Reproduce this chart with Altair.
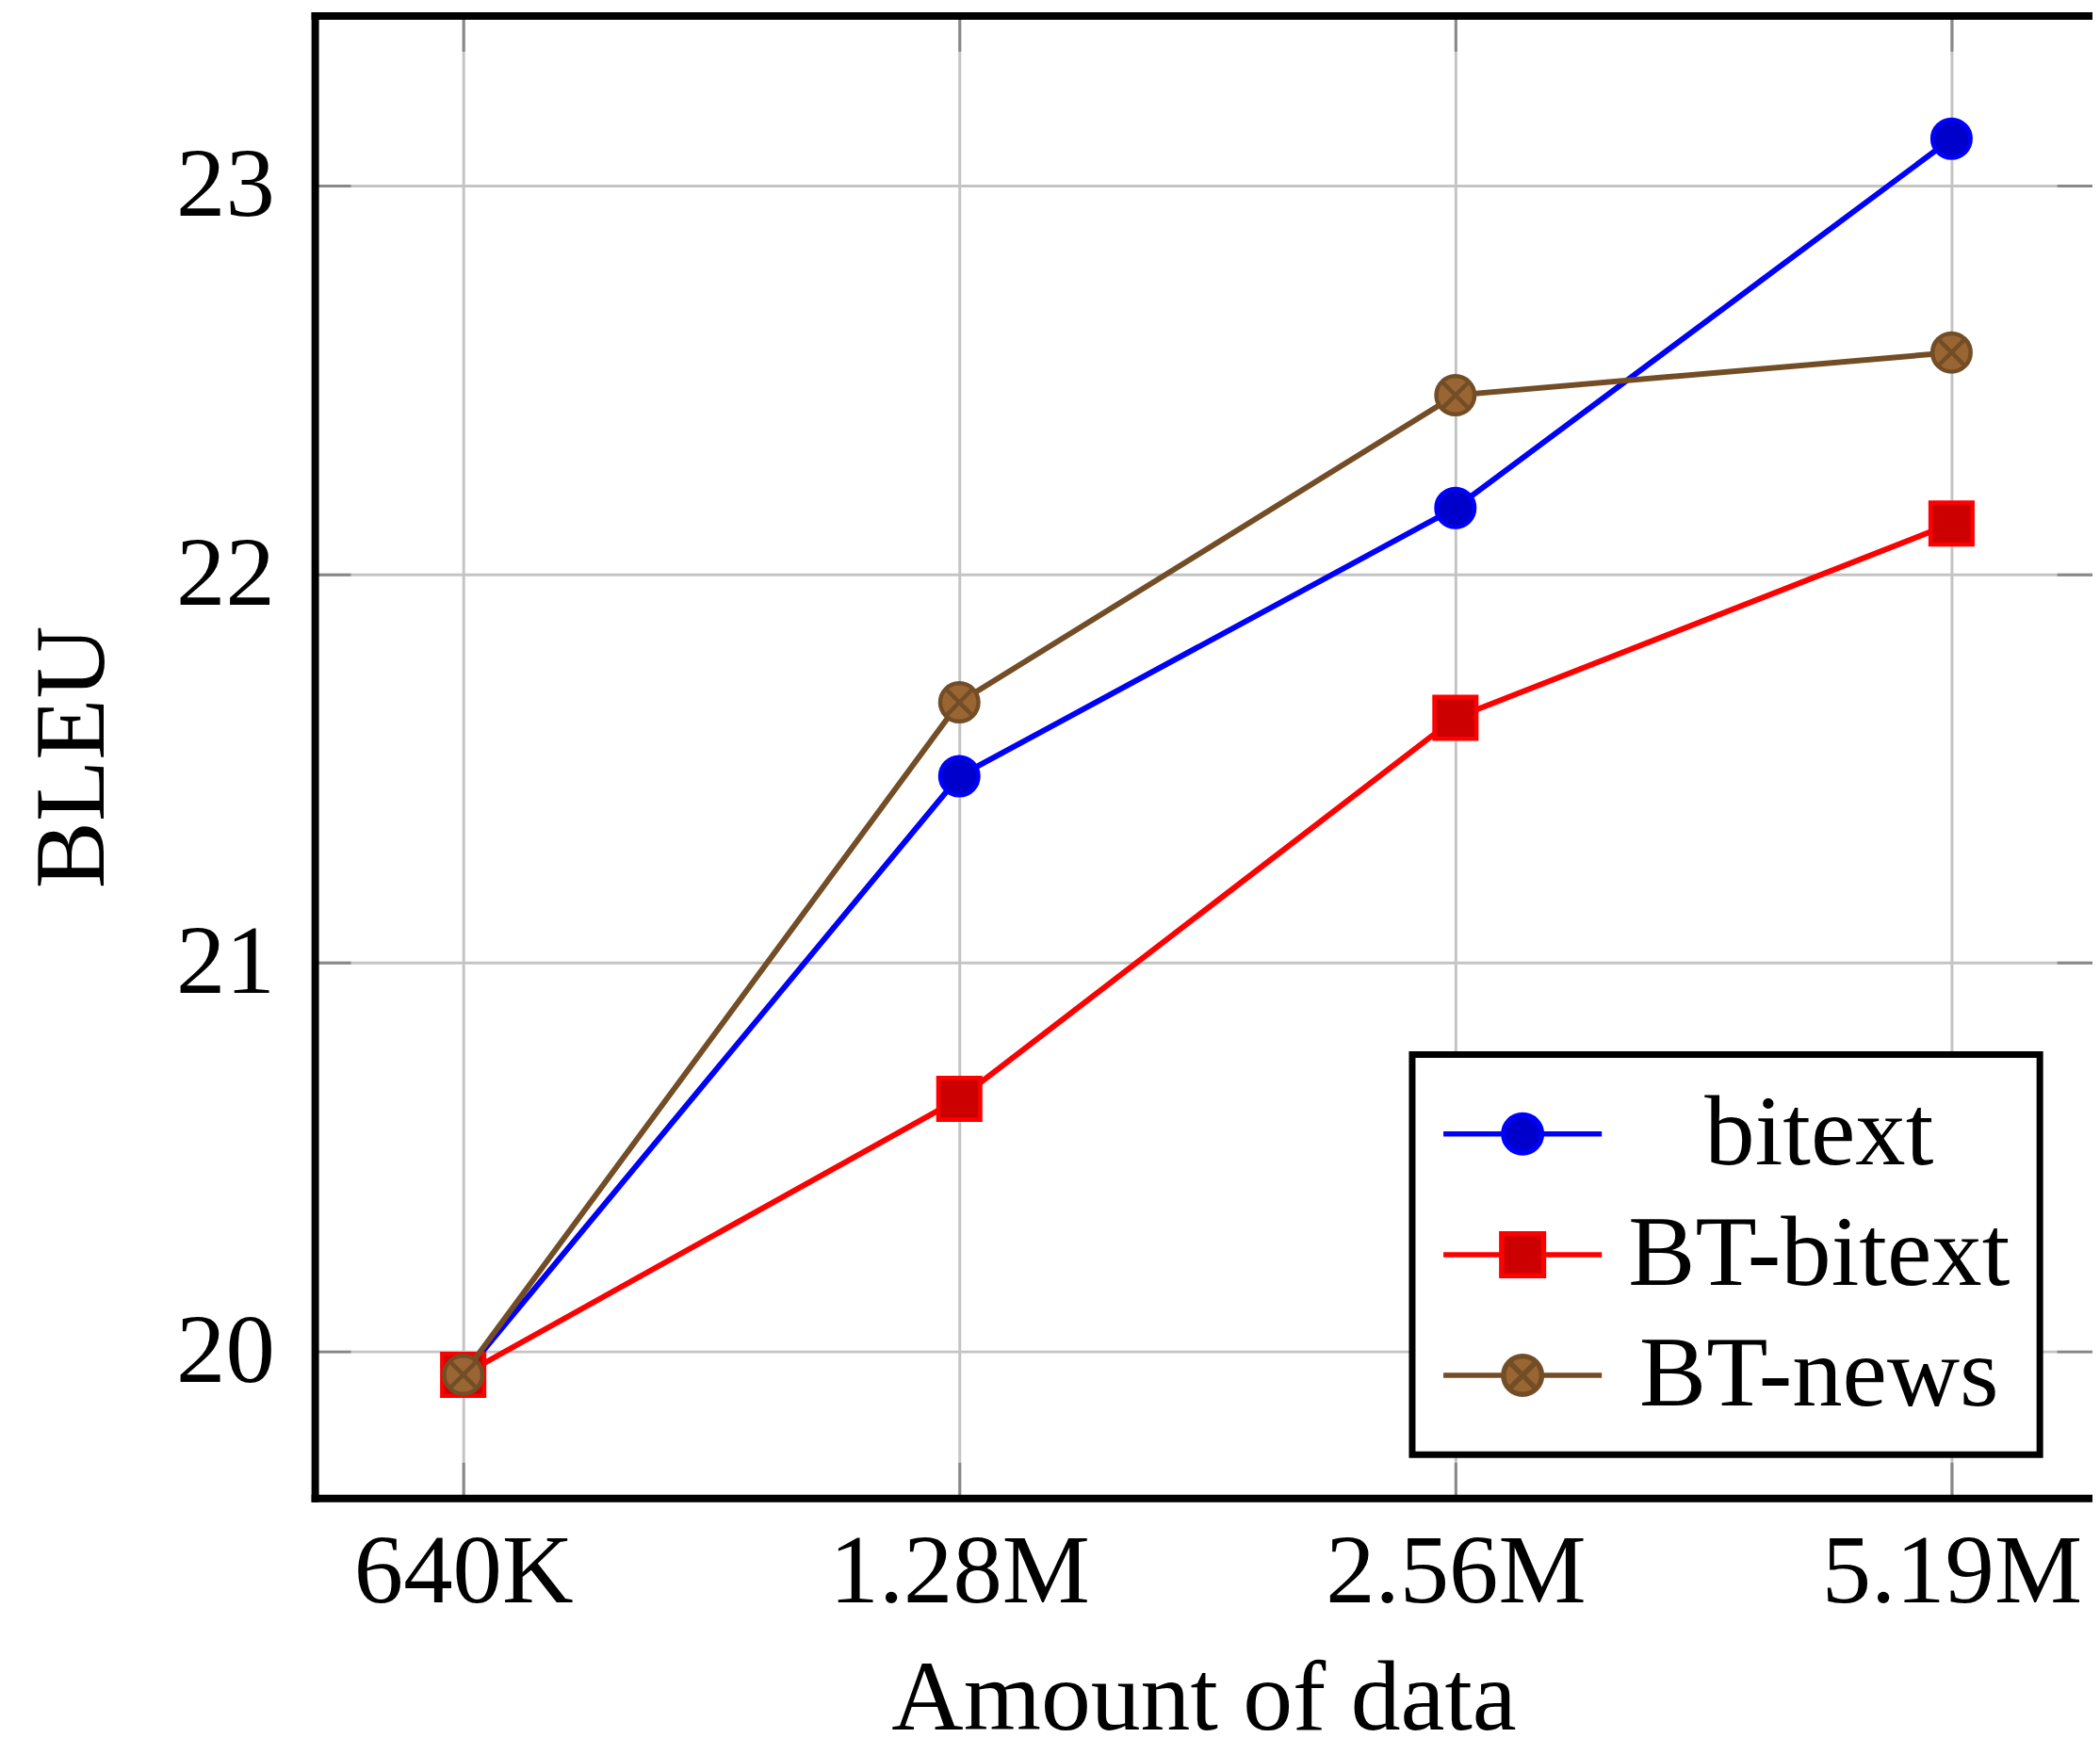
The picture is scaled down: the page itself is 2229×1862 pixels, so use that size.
import altair as alt
import pandas as pd

# ---- data ----
categories = ["640K", "1.28M", "2.56M", "5.19M"]
series_names = ["bitext", "BT-bitext", "BT-news"]
bitext = [19.94, 21.48, 22.17, 23.12]
bt_bitext = [19.94, 20.65, 21.63, 22.13]
bt_news = [19.94, 21.67, 22.46, 22.57]
y_ticks = [20, 21, 22, 23]

line_colors = ["#0000FF", "#FF0000", "#734D26"]
fill_colors = ["#0000CC", "#CC0000", "#996633"]

rows = []
for name, vals in zip(series_names, [bitext, bt_bitext, bt_news]):
    for i, (c, v) in enumerate(zip(categories, vals)):
        rows.append({"series": name, "idx": i, "amount": c, "bleu": v})
df = pd.DataFrame(rows)

# ---- marker shapes (unit paths, scaled by sqrt(size)/2) ----
CIRCLE = "M1,0A1,1,0,1,1,-1,0A1,1,0,1,1,1,0Z"
XCROSS = "M-0.7071,-0.7071L0.7071,0.7071M-0.7071,0.7071L0.7071,-0.7071"
OTIMES = CIRCLE + XCROSS
SQUARE = "M-1.1,-1.1L1.1,-1.1L1.1,1.1L-1.1,1.1Z"
plot_shapes = [CIRCLE, SQUARE, OTIMES]
SEG = "M-4.15,0L-1,0M1,0L4.15,0"
SEGSQ = "M-4.15,0L-1.1,0M1.1,0L4.15,0"
legend_shapes = [SEG + CIRCLE, SEGSQ + SQUARE, SEG + OTIMES]

FONT = "Liberation Serif"
label_expr = "[" + ",".join("'%s'" % c for c in categories) + "][datum.value]"

x_scale = alt.Scale(domain=[-0.2992, 3.2841], nice=False, zero=False)
y_scale = alt.Scale(domain=[19.623, 23.437], nice=False, zero=False)

x_main = alt.Axis(
    orient="bottom", values=[0, 1, 2, 3], labelExpr=label_expr,
    grid=True, gridColor="#c4c4c4", gridWidth=3,
    domainColor="black", domainWidth=8, domainCap="square",
    tickColor="#888888", tickWidth=3, tickSize={"expr": "-38"},
    labelFont=FONT, labelFontSize=105, labelColor="black", labelPadding=66,
    labelLimit=2000, labelFlush=False, labelOverlap=False, labelBound=False,
    title="Amount of data", titleFont=FONT, titleFontSize=106,
    titleFontWeight="normal", titleColor="black", titlePadding=30,
)
y_main = alt.Axis(
    orient="left", values=y_ticks, format="d",
    grid=True, gridColor="#c4c4c4", gridWidth=3,
    domainColor="black", domainWidth=8, domainCap="square",
    tickColor="#888888", tickWidth=3, tickSize={"expr": "-38"},
    labelFont=FONT, labelFontSize=105, labelColor="black", labelPadding=81,
    labelLimit=2000, labelFlush=False, labelOverlap=False, labelBound=False,
    title="BLEU", titleFont=FONT, titleFontSize=107,
    titleFontWeight="normal", titleColor="black", titlePadding=55,
)
x_top = alt.Axis(
    orient="top", values=[0, 1, 2, 3], grid=False, labels=False, title=None,
    domainColor="black", domainWidth=8, domainCap="square",
    tickColor="#888888", tickWidth=3, tickSize={"expr": "-38"},
)
y_right = alt.Axis(
    orient="right", values=y_ticks, grid=False, labels=False, title=None,
    domain=False,
    tickColor="#888888", tickWidth=3, tickSize={"expr": "-38"},
)

base = alt.Chart(df)

# axis carrier layers (invisible points)
axes_main = base.mark_point(opacity=0).encode(
    x=alt.X("idx:Q", scale=x_scale, axis=x_main),
    y=alt.Y("bleu:Q", scale=y_scale, axis=y_main),
)
axes_mirror = base.mark_point(opacity=0).encode(
    x=alt.X("idx:Q", scale=x_scale, axis=x_top),
    y=alt.Y("bleu:Q", scale=y_scale, axis=y_right),
)

layers = [axes_main, axes_mirror]
for name, lc, fc, shp in zip(series_names, line_colors, fill_colors, plot_shapes):
    sub = base.transform_filter(alt.datum.series == name)
    layers.append(
        sub.mark_line(color=lc, strokeWidth=6).encode(
            x=alt.X("idx:Q", scale=x_scale, axis=None),
            y=alt.Y("bleu:Q", scale=y_scale, axis=None),
        )
    )
    layers.append(
        sub.mark_point(shape=shp, size=1650, filled=True, fill=fc, stroke=lc,
                       strokeWidth=4.5, opacity=1).encode(
            x=alt.X("idx:Q", scale=x_scale, axis=None),
            y=alt.Y("bleu:Q", scale=y_scale, axis=None),
        )
    )

legend = alt.Legend(
    orient="none", legendX=1168, legendY=1106, title=None, direction="vertical",
    fillColor="white", strokeColor="black", padding=31, rowPadding=20.5,
    labelFont=FONT, labelFontSize=107, labelColor="black", labelLimit=2000,
    labelAlign="center", labelOffset=262, symbolOffset=33,
    symbolSize=1650, symbolStrokeWidth=5.5, symbolOpacity=1,
)
legend_layer = base.transform_filter("false").mark_point(size=1650, strokeWidth=5.5).encode(
    fill=alt.Fill("series:N", scale=alt.Scale(domain=series_names, range=fill_colors), legend=legend),
    stroke=alt.Stroke("series:N", scale=alt.Scale(domain=series_names, range=line_colors), legend=legend),
    shape=alt.Shape("series:N", scale=alt.Scale(domain=series_names, range=legend_shapes), legend=legend),
)
layers.append(legend_layer)

chart = alt.layer(*layers).resolve_axis(x="independent", y="independent").properties(
    width=1892, height=1578,
    padding={"left": 327, "top": 6, "right": 0, "bottom": 254},
    autosize=alt.AutoSizeParams(type="none"),
    background="white",
).configure_view(stroke=None).configure_legend(strokeWidth=7)

chart.save("out.html", embed_options={"renderer": "svg", "actions": False})
